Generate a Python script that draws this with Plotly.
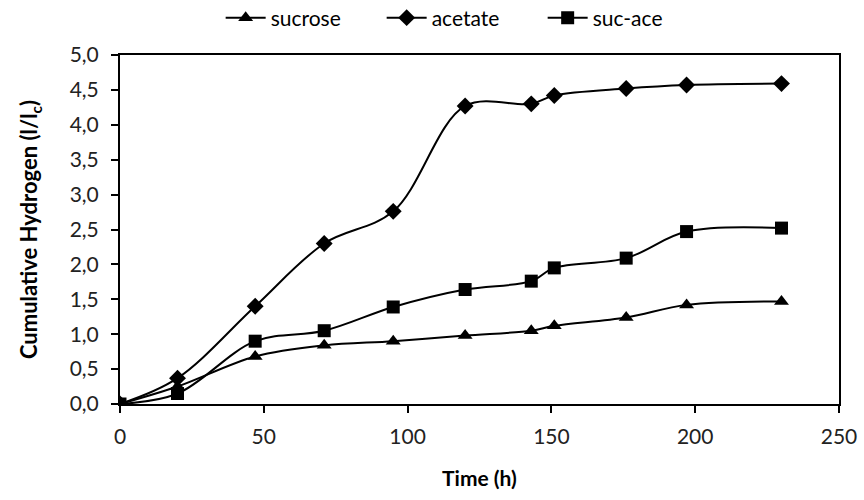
import plotly.graph_objects as go

# Sampling times (h) and cumulative hydrogen for each substrate
time_h = [0, 20, 47, 71, 95, 120, 143, 151, 176, 197, 230]
sucrose = [0.0, 0.25, 0.68, 0.84, 0.90, 0.98, 1.05, 1.12, 1.24, 1.42, 1.47]
acetate = [0.0, 0.37, 1.40, 2.30, 2.76, 4.27, 4.30, 4.42, 4.52, 4.57, 4.59]
suc_ace = [0.0, 0.15, 0.90, 1.05, 1.39, 1.64, 1.76, 1.95, 2.09, 2.47, 2.52]

series = [
    ("sucrose", sucrose, "triangle-up"),
    ("acetate", acetate, "diamond"),
    ("suc-ace", suc_ace, "square"),
]

font_family = "Lato, Open Sans, Arial, sans-serif"

fig = go.Figure()
for name, values, symbol in series:
    fig.add_trace(go.Scatter(
        x=time_h, y=values, name=name,
        mode="lines+markers",
        line=dict(color="black", width=2, shape="spline", smoothing=1.0),
        marker=dict(symbol=symbol, size=13, color="black"),
    ))

axis_common = dict(
    showline=True, linecolor="black", linewidth=2, mirror=True,
    ticks="outside", ticklen=7, tickwidth=1.5, tickcolor="black",
    showgrid=False, zeroline=False,
    tickfont=dict(family=font_family, size=21, color="#222"),
)

fig.update_layout(
    width=864, height=500,
    margin=dict(l=120, r=25, t=55, b=96, autoexpand=False),
    paper_bgcolor="white", plot_bgcolor="white",
    separators=", ",
    font=dict(family=font_family, color="black"),
    showlegend=True,
    legend=dict(
        orientation="h", x=0.14, xanchor="left", y=1.106, yanchor="middle",
        font=dict(family=font_family, size=21),
        itemwidth=40, tracegroupgap=0,
        entrywidth=106, entrywidthmode="pixels",
    ),
    xaxis=dict(
        range=[0, 250], dtick=50, tick0=0, ticklabelstandoff=6,
        title=dict(text="<b>Time (h)</b>", font=dict(family=font_family, size=21), standoff=24),
        **axis_common,
    ),
    yaxis=dict(
        range=[0, 5], dtick=0.5, tick0=0, tickformat=".1f", ticklabelstandoff=8,
        title=dict(text="<b>Cumulative Hydrogen (l/l<sub>c</sub>)</b>",
                   font=dict(family=font_family, size=22), standoff=26),
        **axis_common,
    ),
)

fig.write_html("out.html")
